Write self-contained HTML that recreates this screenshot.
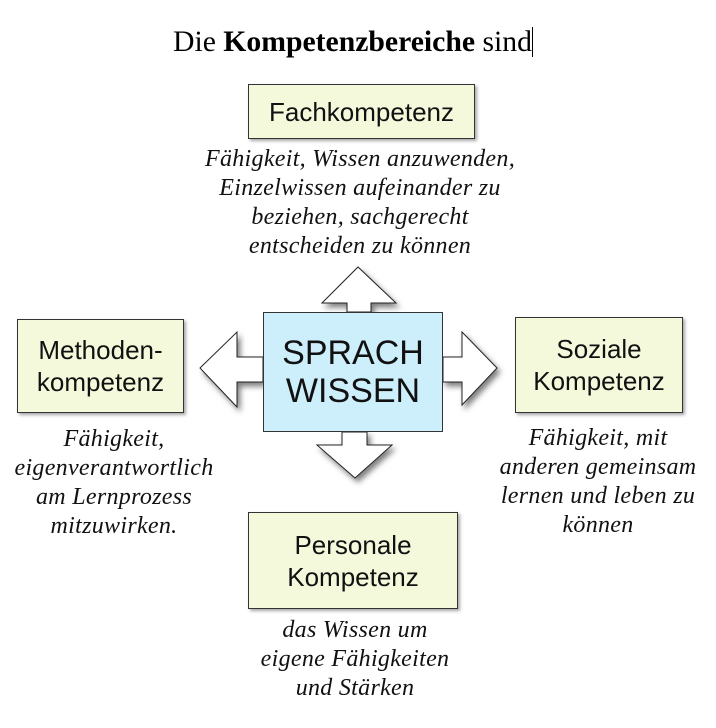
<!DOCTYPE html>
<html><head><meta charset="utf-8"><style>
body{margin:0;width:716px;height:728px;background:#fff;position:relative;overflow:hidden}
.t{position:absolute;font-family:"Liberation Serif",serif;font-size:29.7px;left:173px;top:26px;line-height:32px;white-space:nowrap}
.box{position:absolute;background:#f5f9dc;border:1px solid #333;box-shadow:2px 2px 3px rgba(0,0,0,.35);display:flex;align-items:center;justify-content:center;text-align:center;font-family:"Liberation Sans",sans-serif;font-size:26px;line-height:32px;color:#111}
.cap{position:absolute;font-family:"Liberation Serif",serif;font-style:italic;font-size:24px;letter-spacing:0.3px;line-height:29px;text-align:center;color:#111;white-space:nowrap}
</style></head><body>
<div class="t">Die <b>Kompetenzbereiche</b> sind<span style="display:inline-block;width:1px;height:30px;background:#000;vertical-align:-6px"></span></div>
<svg width="716" height="728" style="position:absolute;left:0;top:0">
<defs><filter id="s" x="-30%" y="-30%" width="160%" height="160%"><feDropShadow dx="3" dy="4" stdDeviation="3" flood-opacity="0.5"/></filter></defs>
<g fill="#fff" stroke="#222" stroke-width="1" filter="url(#s)">
<polygon points="347,312 347,303 322,303 358,267 396,303 371,303 371,312"/>
<polygon points="263,357 237,357 237,332 200,368 237,407 237,382 263,382"/>
<polygon points="443,357 462,357 462,332 497,368 462,405 462,382 443,382"/>
<polygon points="342,432 342,445 317,445 355,478 392,445 367,445 367,432"/>
</g>
</svg>
<div class="box" style="left:263px;top:312px;width:178px;height:118px;background:#cdeefb;font-size:34px;line-height:38px;box-shadow:none">SPRACH<br>WISSEN</div>
<div class="box" style="left:248px;top:84px;width:225px;height:53px">Fachkompetenz</div>
<div class="box" style="left:17px;top:319px;width:165px;height:92px">Methoden-<br>kompetenz</div>
<div class="box" style="left:515px;top:317px;width:166px;height:94px">Soziale<br>Kompetenz</div>
<div class="box" style="left:248px;top:512px;width:208px;height:95px">Personale<br>Kompetenz</div>
<div class="cap" style="left:160px;width:400px;top:145px">Fähigkeit, Wissen anzuwenden,<br>Einzelwissen aufeinander zu<br>beziehen, sachgerecht<br>entscheiden zu können</div>
<div class="cap" style="left:8px;width:212px;top:425px">Fähigkeit,<br>eigenverantwortlich<br>am Lernprozess<br>mitzuwirken.</div>
<div class="cap" style="left:490px;width:216px;top:424px">Fähigkeit, mit<br>anderen gemeinsam<br>lernen und leben zu<br>können</div>
<div class="cap" style="left:240px;width:230px;top:616px">das Wissen um<br>eigene Fähigkeiten<br>und Stärken</div>
</body></html>
